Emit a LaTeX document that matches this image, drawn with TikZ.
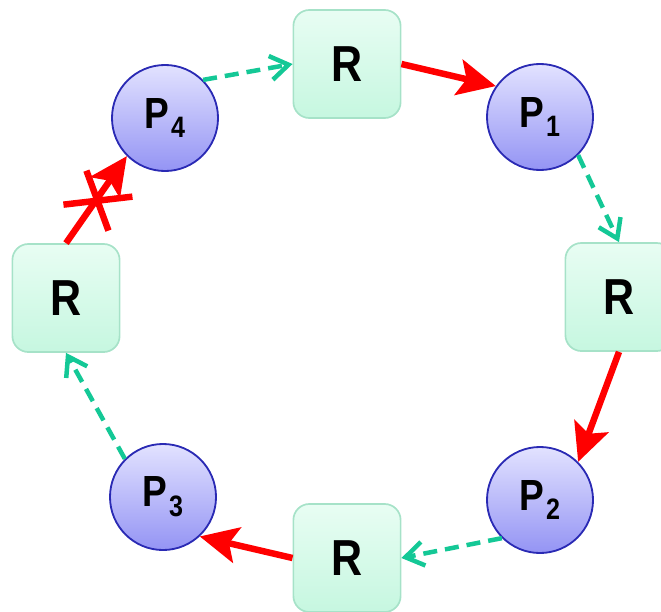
\documentclass[tikz,border=0pt]{standalone}
\usepackage{fontspec}
\setmainfont[FakeStretch=0.85]{Liberation Sans}
\usetikzlibrary{arrows.meta}
\definecolor{vert}{RGB}{20,200,150}
\definecolor{boxtop}{RGB}{232,253,243}
\definecolor{boxbot}{RGB}{198,247,224}
\definecolor{boxline}{RGB}{166,226,200}
\definecolor{proctop}{RGB}{226,226,255}
\definecolor{procbot}{RGB}{148,148,244}
\definecolor{procline}{RGB}{42,42,180}
\newcommand{\pnum}[1]{P\kern1pt\raisebox{-7pt}{\fontsize{21}{21}\selectfont #1}}
\begin{document}
\begin{tikzpicture}[x=0.025cm,y=-0.025cm,
	res/.style={draw=boxline, line width=1.2pt, rounded corners=0.4cm, minimum width=2.68cm, minimum height=2.7cm, top color=boxtop, bottom color=boxbot, font=\fontsize{36}{36}\selectfont\bfseries},
	proc/.style={circle, draw=procline, line width=1.3pt, minimum size=2.65cm, inner sep=0pt, top color=proctop, bottom color=procbot, font=\fontsize{31}{31}\selectfont\bfseries},
	req/.style={vert, line width=3.2pt, dash pattern=on 0.35cm off 0.2cm, -{Straight Barb[length=0.45cm,width=0.6cm]}},
	alloc/.style={red, line width=4.6pt, -{Stealth[length=0.95cm,width=0.9cm,inset=0.2cm]}}]
	\useasboundingbox (0,0) rectangle (661,611);
	%ressources
	\node[res] (rt) at (347,64) {R};
	\node[res] (rr) at (619,297) {R};
	\node[res] (rb) at (347,558) {R};
	\node[res] (rl) at (66,298) {R};
	%processus
	\node[proc] (p1) at (540,117) {\pnum{1}};
	\node[proc] (p2) at (540,500) {\pnum{2}};
	\node[proc] (p3) at (163,497) {\pnum{3}};
	\node[proc] (p4) at (165,118) {\pnum{4}};
	%demandes
	\draw[req] (p4.north east) -- (rt.west);
	\draw[req] (p1.south east) -- (rr.north);
	\draw[req] (p2.south west) -- (rb.east);
	\draw[req] (p3.north west) -- (rl.south);
	%allocations
	\draw[alloc] (rt.east) -- (p1.145);
	\draw[alloc] (rr.south) -- (p2.north east);
	\draw[alloc] (rb.west) -- (p3.-47);
	\draw[alloc] (rl.north) -- coordinate[pos=0.5] (cx) (p4.south west);
	%barre
	\draw[red, line width=4.6pt] ([shift={(-33,5)}]cx) -- ([shift={(36,-3)}]cx);
	\draw[red, line width=4.6pt] ([shift={(-10,-29)}]cx) -- ([shift={(12,31)}]cx);
\end{tikzpicture}
\end{document}
